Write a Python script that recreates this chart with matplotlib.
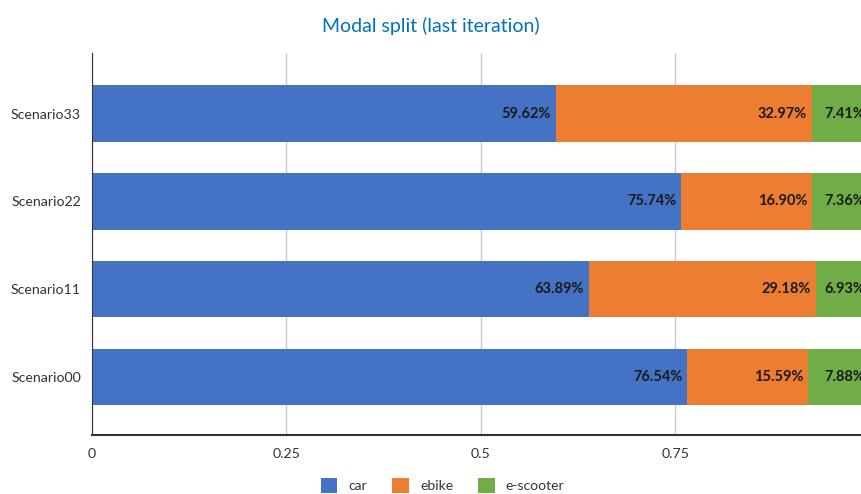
import matplotlib.pyplot as plt
import numpy as np

scenarios = ['Scenario00', 'Scenario11', 'Scenario22', 'Scenario33']
car = [0.7654, 0.6389, 0.7574, 0.5962]
ebike = [0.1559, 0.2918, 0.1690, 0.3297]
escooter = [0.0788, 0.0693, 0.0736, 0.0741]

modes = ['car', 'ebike', 'e-scooter']
colors = ['#4472C4', '#ED7D31', '#70AD47']

plt.rcParams['font.family'] = ['Lato', 'DejaVu Sans']

fig = plt.figure(figsize=(8.61, 4.94), dpi=100)
ax = fig.add_axes([92/861, 59/494, (861-92)/861, 382/494])

y = np.arange(len(scenarios))
left = np.zeros(len(scenarios))
for name, vals, col in zip(modes, [car, ebike, escooter], colors):
    vals = np.array(vals)
    ax.barh(y, vals, left=left, height=0.64, color=col, label=name, zorder=2)
    # percentage label at the right end of each segment
    for yi, l, v in zip(y, left, vals):
        ax.text(l + v - 0.006, yi, f'{v*100:.2f}%', ha='right', va='center',
                fontsize=10.5, fontweight='bold', color='#1a1a1a', zorder=3)
    left = left + vals

ax.set_xlim(0, 0.989)
ax.set_ylim(-0.66, 3.69)
ax.set_yticks(y)
ax.set_yticklabels(scenarios)
ax.set_xticks([0, 0.25, 0.5, 0.75])
ax.set_xticklabels(['0', '0.25', '0.5', '0.75'])
ax.tick_params(length=0, labelsize=10.2, labelcolor='#333333')
ax.tick_params(axis='x', pad=9)
ax.tick_params(axis='y', pad=8)
ax.grid(axis='x', color='#cccccc', linewidth=1, zorder=0)
for s in ['top', 'right']:
    ax.spines[s].set_visible(False)
ax.spines['left'].set_color('#333333')
ax.spines['bottom'].set_color('#333333')
ax.spines['bottom'].set_linewidth(1.5)

fig.text(0.5, 0.948, 'Modal split (last iteration)', ha='center', va='center',
         fontsize=14, color='#0070C0')

fig.legend(loc='center', bbox_to_anchor=(0.514, 0.017), ncol=3, frameon=False,
           fontsize=10, handlelength=1.2, handleheight=1.2, columnspacing=1.8,
           labelcolor='#333333')

fig.savefig('out.png', dpi=100)
